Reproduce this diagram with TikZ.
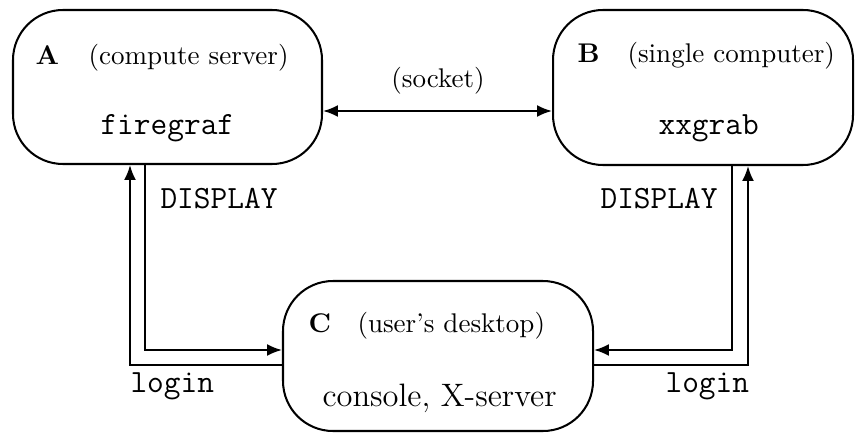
\documentclass[tikz,border=0pt]{standalone}
\usetikzlibrary{arrows.meta}
\begin{document}
\begin{tikzpicture}[x=0.37pt,y=-0.37pt,
  box/.style={draw, line width=0.75pt, rounded corners=18.5pt, inner sep=0pt},
  lbl/.style={inner sep=0pt, anchor=base west},
  conn/.style={line width=0.75pt, -{Latex[length=5.5pt,width=4.4pt]}},
  dconn/.style={line width=0.75pt, {Latex[length=5.5pt,width=4.4pt]}-{Latex[length=5.5pt,width=4.4pt]}}]
\useasboundingbox (0,0) rectangle (855,432);
% boxes
\node[box, minimum width=309*0.37pt, minimum height=154*0.37pt] (A) at (167.5,87) {};
\node[box, minimum width=300*0.37pt, minimum height=155*0.37pt] (B) at (703,87.5) {};
\node[box, minimum width=310*0.37pt, minimum height=150*0.37pt] (C) at (438,356) {};
% texts in A
\node[lbl] (Atag) at (35,64) {\textbf{A}};
\node[lbl] (Adesc) at (88,64) {(compute server)};
\node[lbl] (Aprog) at (100,135) {\large\ttfamily firegraf};
% texts in B
\node[lbl] (Btag) at (577,63) {\textbf{B}};
\node[lbl] (Bdesc) at (627,63) {(single computer)};
\node[lbl] (Bprog) at (658,135) {\large\ttfamily xxgrab};
% texts in C
\node[lbl] (Ctag) at (308,332) {\textbf{C}};
\node[lbl] (Cdesc) at (357,332) {(user's desktop)};
\node[lbl] (Cprog) at (322,406) {\large console, X-server};
% helper coordinates
\coordinate (ysock) at (0,111);
\coordinate (yD) at (0,350);
\coordinate (yL) at (0,365);
\coordinate (xDL) at (145,0);
\coordinate (xLL) at (130,0);
\coordinate (xDR) at (732,0);
\coordinate (xLR) at (748,0);
% connectors
\draw[dconn] (A.east |- ysock) -- (B.west |- ysock);
\node[inner sep=0pt, anchor=base] (sock) at (438,88) {(socket)};
\draw[conn] (A.south -| xDL) |- (C.west |- yD);
\draw[conn] (C.west |- yL) -| (A.south -| xLL);
\draw[conn] (B.south -| xDR) |- (C.east |- yD);
\draw[conn] (C.east |- yL) -| (B.south -| xLR);
% connector labels
\node[lbl] (dispL) at (160,208) {\large\ttfamily DISPLAY};
\node[lbl] (dispR) at (600,208) {\large\ttfamily DISPLAY};
\node[lbl] (logL) at (130,392) {\large\ttfamily login};
\node[lbl] (logR) at (665,392) {\large\ttfamily login};
\end{tikzpicture}
\end{document}
